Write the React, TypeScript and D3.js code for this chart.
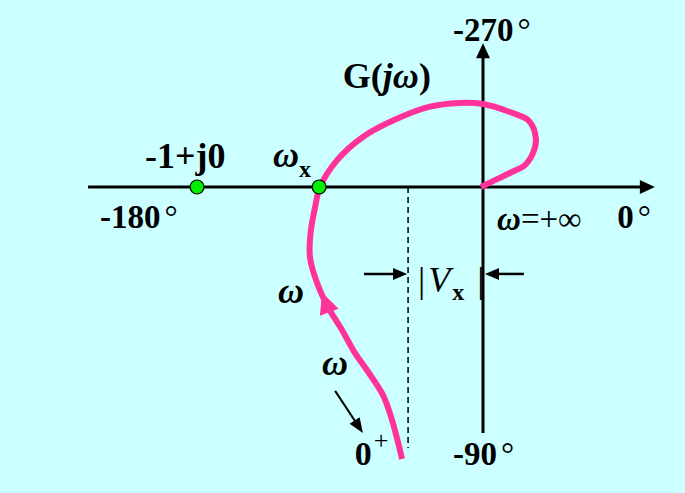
import { useMemo } from "react";
import * as d3 from "d3";

// Nyquist-style plot of G(jω), values in units of the -1+j0 distance
const curveRe = [
  -0.283, -0.318, -0.35, -0.406, -0.448, -0.493, -0.542, -0.58, -0.605, -0.603,
  -0.587, -0.57, -0.51, -0.42, -0.311, -0.189, -0.084, 0, 0.094, 0.161, 0.185,
  0.175, 0.147, 0.094, 0.042, -0.007,
];
const curveIm = [
  -0.951, -0.815, -0.727, -0.64, -0.58, -0.5, -0.42, -0.336, -0.245, -0.161,
  -0.07, 0, 0.094, 0.175, 0.234, 0.28, 0.294, 0.29, 0.262, 0.231, 0.168,
  0.119, 0.077, 0.049, 0.024, 0,
];
const markerRe = [-1, -0.573];
const vxRe = -0.262;
const axisRe = [-1.381, 0.601];
const axisIm = [-0.86, 0.503];

const W = 685;
const H = 493;
const PINK = "#ff3399";
const FONT = "'Liberation Serif', 'Times New Roman', serif";

const x = d3.scaleLinear().domain([-1, 0]).range([197, 483]);
const y = d3.scaleLinear().domain([0, 1]).range([187, -99]);

const arrowHead = (x0: number, y0: number, x1: number, y1: number, len = 14, half = 6) => {
  const a = Math.atan2(y1 - y0, x1 - x0);
  const bx = x1 - len * Math.cos(a);
  const by = y1 - len * Math.sin(a);
  const px = -Math.sin(a) * half;
  const py = Math.cos(a) * half;
  return `M${x1},${y1}L${bx + px},${by + py}L${bx - px},${by - py}Z`;
};

const Deg = ({ re, im, text, size = 33 }: { re: number; im: number; text: string; size?: number }) => (
  <text x={x(re)} y={y(im)} fontSize={size} fontWeight="bold" fontFamily={FONT}>
    {text}
    <tspan dx={4} fontWeight="normal">°</tspan>
  </text>
);

export default function App() {
  const pts = useMemo(() => curveRe.map((r, i) => [x(r), y(curveIm[i])] as [number, number]), []);
  const path = d3.line().curve(d3.curveCatmullRom.alpha(0.5))(pts) ?? "";

  // direction arrow on the curve, a little offset to the right like the original
  const p0 = pts[5];
  const p1 = pts[7];
  const t = 0.8;
  const tip: [number, number] = [p0[0] + (p1[0] - p0[0]) * t, p0[1] + (p1[1] - p0[1]) * t];
  const ang = Math.atan2(p1[1] - p0[1], p1[0] - p0[0]);
  const off = 6;
  const ox = Math.sin(ang) * off;
  const oy = -Math.cos(ang) * off;
  const curveArrow = arrowHead(p0[0] + ox, p0[1] + oy, tip[0], tip[1], 21, 10);

  const yVx = y(-0.304);
  const yAxis = y(0);
  const x0 = x(0);

  return (
    <svg width={W} height={H} style={{ position: "absolute", left: 0, top: 0 }}>
      <rect width={W} height={H} fill="#ccffff" />

      {/* axes */}
      <line x1={x(axisRe[0])} x2={x(axisRe[1]) - 12} y1={yAxis} y2={yAxis} stroke="#000" strokeWidth={3} />
      <path d={arrowHead(x(axisRe[0]), yAxis, x(axisRe[1]), yAxis, 15, 7)} fill="#000" />
      <line x1={x0} x2={x0} y1={y(axisIm[0])} y2={y(axisIm[1]) + 12} stroke="#000" strokeWidth={3} />
      <path d={arrowHead(x0, y(axisIm[0]), x0, y(axisIm[1]), 15, 7)} fill="#000" />

      {/* dashed |Vx| guide */}
      <line x1={x(vxRe)} x2={x(vxRe)} y1={yAxis} y2={y(-0.913)} stroke="#000" strokeWidth={1.5} strokeDasharray="6,4" />
      <line x1={x(-0.416)} x2={x(vxRe) - 10} y1={yVx} y2={yVx} stroke="#000" strokeWidth={2.5} />
      <path d={arrowHead(x(-0.416), yVx, x(vxRe) - 1, yVx, 14, 6)} fill="#000" />
      <line x1={x(0.143)} x2={x0 + 10} y1={yVx} y2={yVx} stroke="#000" strokeWidth={2.5} />
      <path d={arrowHead(x(0.143), yVx, x0 + 2, yVx, 14, 6)} fill="#000" />

      {/* G(jω) curve */}
      <path d={path} fill="none" stroke={PINK} strokeWidth={6} strokeLinejoin="round" />
      <path d={curveArrow} fill={PINK} />

      {/* small ω arrow */}
      <line x1={x(-0.517)} y1={y(-0.713)} x2={x(-0.432)} y2={y(-0.842)} stroke="#000" strokeWidth={2} />
      <path d={arrowHead(x(-0.517), y(-0.713), x(-0.42), y(-0.86), 15, 6)} fill="#000" />

      {markerRe.map((r, i) => (
        <circle key={i} cx={x(r)} cy={yAxis} r={7} fill="#00ee00" stroke="#000" strokeWidth={1.2} />
      ))}

      {/* labels */}
      <Deg re={-0.105} im={0.511} text="-270" />
      <Deg re={-1.339} im={-0.143} text="-180" />
      <Deg re={0.469} im={-0.143} text="0" />
      <Deg re={-0.105} im={-0.972} text="-90" />

      <text x={x(-0.49)} y={y(0.346)} fontSize={36} fontWeight="bold" fontFamily={FONT}>
        G(<tspan fontStyle="italic">jω</tspan>)
      </text>
      <text x={x(-1.182)} y={y(0.066)} fontSize={36} fontWeight="bold" fontFamily={FONT}>
        -1+j0
      </text>
      <text x={x(-0.734)} y={y(0.07)} fontSize={36} fontWeight="bold" fontStyle="italic" fontFamily={FONT}>
        ω
        <tspan fontSize={24} fontStyle="normal" dy={10}>x</tspan>
      </text>
      <text x={x(0.049)} y={y(-0.15)} fontSize={33} fontFamily={FONT}>
        <tspan fontWeight="bold" fontStyle="italic">ω</tspan>=+∞
      </text>
      <text x={x(-0.227)} y={y(-0.367)} fontSize={36} fontFamily={FONT}>
        |<tspan fontStyle="italic" dx={3}>V</tspan>
        <tspan fontSize={24} fontWeight="bold" dy={8} dx={2}>x</tspan>
        <tspan dy={-8} dx={13}>|</tspan>
      </text>
      <text x={x(-0.717)} y={y(-0.406)} fontSize={36} fontWeight="bold" fontStyle="italic" fontFamily={FONT}>
        ω
      </text>
      <text x={x(-0.563)} y={y(-0.657)} fontSize={36} fontWeight="bold" fontStyle="italic" fontFamily={FONT}>
        ω
      </text>
      <text x={x(-0.448)} y={y(-0.972)} fontSize={34} fontWeight="bold" fontFamily={FONT}>
        0<tspan fontSize={26} fontWeight="normal" dy={-16} dx={2}>+</tspan>
      </text>
    </svg>
  );
}
